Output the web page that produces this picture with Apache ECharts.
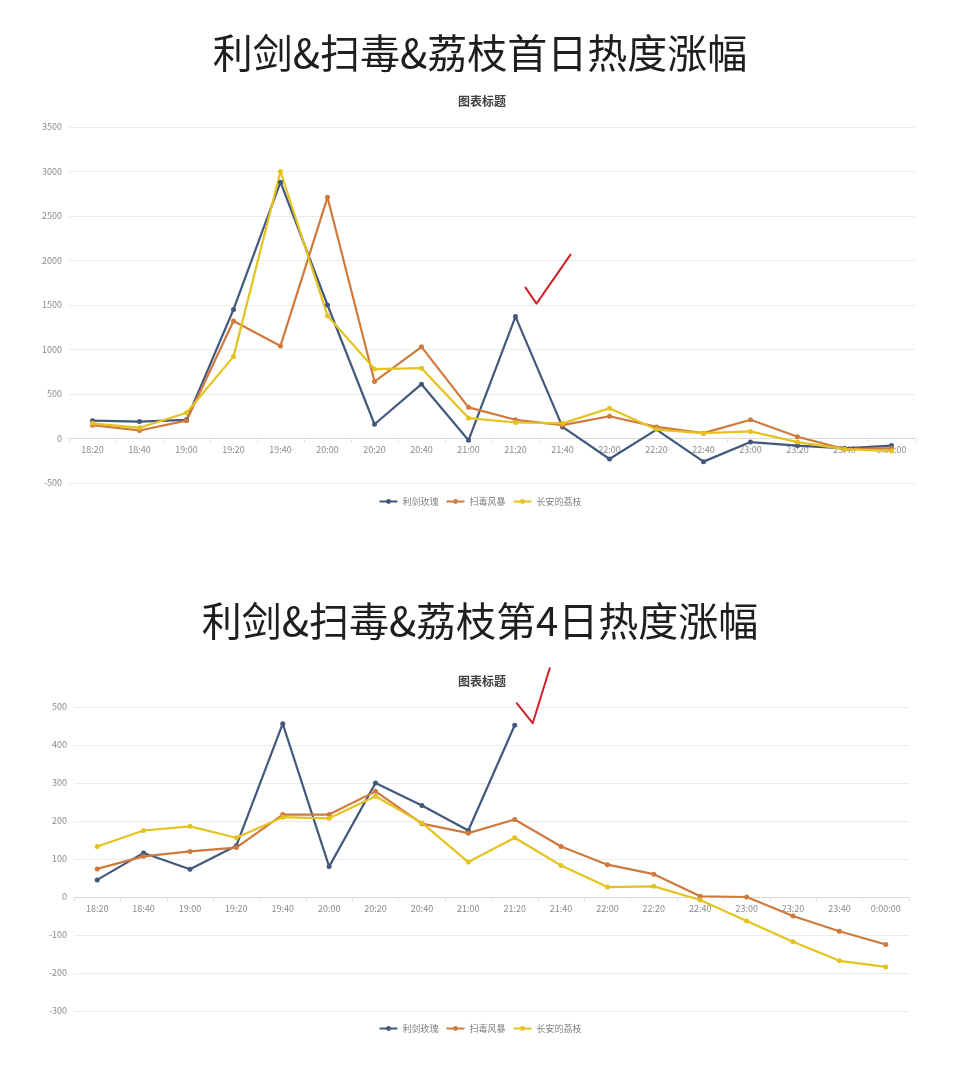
<!DOCTYPE html>
<html>
<head>
<meta charset="utf-8">
<script src="https://cdn.jsdelivr.net/npm/echarts@6/dist/echarts.min.js"></script>
<style>
html,body{margin:0;padding:0;background:#fff;}
#main{width:960px;height:1074px;}
</style>
</head>
<body>
<div id="main"></div>
<script>
const categories = ['18:20','18:40','19:00','19:20','19:40','20:00','20:20','20:40','21:00','21:20','21:40','22:00','22:20','22:40','23:00','23:20','23:40','0:00:00'];
const seriesNames = ['利剑玫瑰','扫毒风暴','长安的荔枝'];
const mainTitles = ['利剑&扫毒&荔枝首日热度涨幅','利剑&扫毒&荔枝第4日热度涨幅'];
const subTitle = '图表标题';

// Day 1
const day1Lijian = [200,190,210,1450,2880,1500,160,610,-20,1370,130,-230,100,-260,-40,-80,-110,-80];
const day1Saodu  = [150,90,200,1320,1040,2710,640,1030,350,210,150,250,130,60,210,20,-120,-110];
const day1Lizhi  = [170,120,290,920,3000,1380,780,790,230,180,170,340,100,60,80,-40,-120,-140];

// Day 4
const day4Lijian = [45,116,73,135,456,80,300,241,175,452];
const day4Saodu  = [74,107,120,130,217,217,278,193,168,204,133,85,60,2,0,-50,-90,-125];
const day4Lizhi  = [133,175,186,156,210,207,265,195,92,156,83,26,28,-8,-63,-118,-168,-184];

// y-axis ranges
const day1Y = {min:-500, max:3500, interval:500};
const day4Y = {min:-300, max:500, interval:100};

const colors = ['#42587c','#cf7a3c','#e5c31e'];
const FONT = "'Noto Sans CJK SC','Noto Sans',sans-serif";

const grids = [
  {left:69, right:45, top:127, height:356},
  {left:74, right:51, top:707, height:304}
];

const chart = echarts.init(document.getElementById('main'), null, {renderer:'canvas'});

function xAxisCfg(gi, yr){
  // place the category axis (line + labels) at value 0, like the spreadsheet chart
  const zeroOffset = grids[gi].height * (0 - yr.min) / (yr.max - yr.min);
  return {
    type:'category', gridIndex:gi, data:categories, boundaryGap:true,
    position:'bottom', offset:-zeroOffset,
    axisLine:{onZero:false, lineStyle:{color:'#d9d9d9', width:1}},
    axisTick:{show:true, length:4, lineStyle:{color:'#e0e0e0'}},
    axisLabel:{color:'#8a8a8a', fontSize:9, fontFamily:FONT, margin:7}
  };
}
function yAxisCfg(gi, yr){
  return {
    type:'value', gridIndex:gi, min:yr.min, max:yr.max, interval:yr.interval,
    axisLine:{show:false}, axisTick:{show:false},
    splitLine:{lineStyle:{color:'#ececec', width:1}},
    axisLabel:{color:'#8a8a8a', fontSize:9, fontFamily:FONT, margin:7, formatter:v=>String(v)}
  };
}
function lineSeries(name, data, gi, ci){
  return {
    name:name, type:'line', xAxisIndex:gi, yAxisIndex:gi, data:data,
    symbol:'circle', symbolSize:5, smooth:false,
    lineStyle:{width:2.2, color:colors[ci]},
    itemStyle:{color:colors[ci]},
    emphasis:{disabled:true}
  };
}

const option = {
  animation:false,
  backgroundColor:'#ffffff',
  color:colors,
  title:[
    {text:mainTitles[0], left:'center', top:33, padding:0, textStyle:{fontSize:40, fontWeight:400, color:'#1e1e1e', fontFamily:FONT}},
    {text:subTitle, left:482, top:95, padding:0, textAlign:'center', textStyle:{fontSize:12, fontWeight:'bold', color:'#404040', fontFamily:FONT}},
    {text:mainTitles[1], left:'center', top:601, padding:0, textStyle:{fontSize:40, fontWeight:400, color:'#1e1e1e', fontFamily:FONT}},
    {text:subTitle, left:482, top:675, padding:0, textAlign:'center', textStyle:{fontSize:12, fontWeight:'bold', color:'#404040', fontFamily:FONT}}
  ],
  legend:[
    {data:seriesNames.map(n=>({name:n})), left:'center', top:497, itemWidth:18, itemHeight:6, itemGap:7, padding:0,
     textStyle:{fontSize:9, color:'#808080', fontFamily:FONT}},
    {data:seriesNames.map(n=>({name:n+' '})), left:'center', top:1024, itemWidth:18, itemHeight:6, itemGap:7, padding:0,
     textStyle:{fontSize:9, color:'#808080', fontFamily:FONT},
     formatter:n=>n.trim()}
  ],
  grid:grids.map(g=>Object.assign({containLabel:false}, g)),
  xAxis:[xAxisCfg(0, day1Y), xAxisCfg(1, day4Y)],
  yAxis:[yAxisCfg(0, day1Y), yAxisCfg(1, day4Y)],
  series:[
    lineSeries(seriesNames[0], day1Lijian, 0, 0),
    lineSeries(seriesNames[1], day1Saodu, 0, 1),
    lineSeries(seriesNames[2], day1Lizhi, 0, 2),
    lineSeries(seriesNames[0]+' ', day4Lijian, 1, 0),
    lineSeries(seriesNames[1]+' ', day4Saodu, 1, 1),
    lineSeries(seriesNames[2]+' ', day4Lizhi, 1, 2)
  ]
};
chart.setOption(option);

// Hand-drawn red check marks placed relative to the 21:20 peak points
function checkMark(gi, value, offs){
  const p = chart.convertToPixel({xAxisIndex:gi, yAxisIndex:gi}, ['21:20', value]);
  return {
    type:'polyline', silent:true, z:100,
    shape:{points:offs.map(o=>[p[0]+o[0], p[1]+o[1]])},
    style:{stroke:'#d1222a', lineWidth:2, fill:null, lineCap:'round', lineJoin:'round'}
  };
}
chart.setOption({
  graphic:[
    checkMark(0, day1Lijian[9], [[10,-29],[21,-13],[55,-62]]),
    checkMark(1, day4Lijian[9], [[2,-22],[18,-2],[35,-57]])
  ]
});
</script>
</body>
</html>
